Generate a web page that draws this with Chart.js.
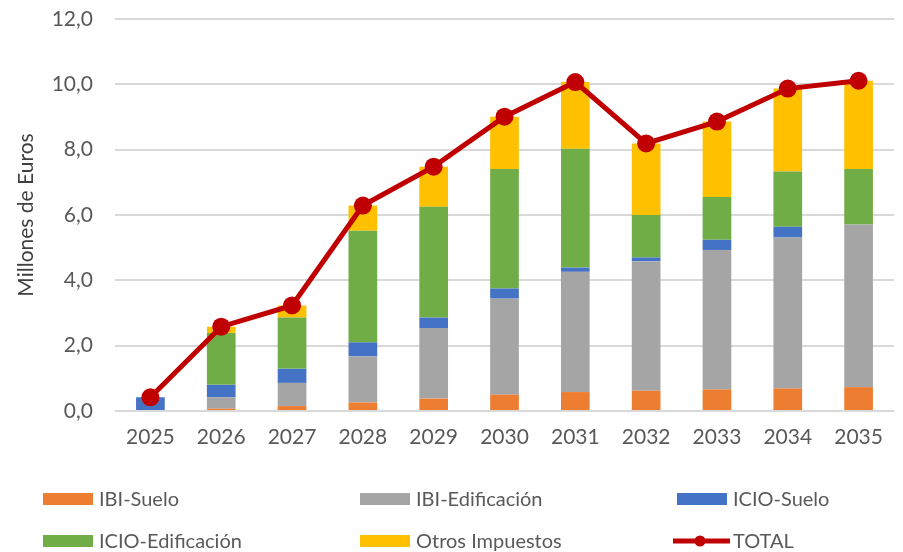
<!DOCTYPE html>
<html>
<head>
<meta charset="utf-8">
<script src="https://cdn.jsdelivr.net/npm/chart.js@4.4.0/dist/chart.umd.min.js"></script>
<style>
  html, body { margin: 0; padding: 0; background: #fff; }
  #wrap { width: 903px; height: 552px; position: relative; }
</style>
</head>
<body>
<div id="wrap"><canvas id="chart" width="903" height="552"></canvas></div>
<script>
// años
var years = ['2025', '2026', '2027', '2028', '2029', '2030', '2031', '2032', '2033', '2034', '2035'];

// millones de euros
var ibiSuelo      = [0.00, 0.07, 0.15, 0.26, 0.38, 0.50, 0.58, 0.62, 0.66, 0.69, 0.73];
var ibiEdif       = [0.00, 0.35, 0.71, 1.41, 2.16, 2.94, 3.68, 3.96, 4.27, 4.62, 4.98];
var icioSuelo     = [0.42, 0.38, 0.43, 0.43, 0.32, 0.31, 0.13, 0.12, 0.31, 0.33, 0.00];
var icioEdif      = [0.00, 1.59, 1.57, 3.42, 3.39, 3.66, 3.64, 1.30, 1.31, 1.69, 1.70];
var otros         = [0.00, 0.19, 0.37, 0.77, 1.23, 1.60, 2.04, 2.19, 2.31, 2.54, 2.70];
var total         = [0.42, 2.58, 3.23, 6.29, 7.48, 9.01, 10.07, 8.19, 8.86, 9.87, 10.11];

var yTicks = [0, 2, 4, 6, 8, 10, 12];

var FONT = 'Lato, "Open Sans", sans-serif';
var TXT = '#595959';

function bar(label, data, color) {
  return {
    type: 'bar', label: label, data: data, backgroundColor: color,
    stack: 'a', order: 1, barPercentage: 0.405, categoryPercentage: 1.0
  };
}

// leyenda en rejilla 3x2, como en el original
var gridLegend = {
  id: 'gridLegend',
  afterDraw: function (chart) {
    var ctx = chart.ctx;
    var cols = [43, 360, 677];
    var rows = [499, 541];
    ctx.save();
    ctx.font = '20px ' + FONT;
    ctx.textBaseline = 'middle';
    chart.data.datasets.forEach(function (ds, i) {
      var x = cols[i % 3], y = rows[Math.floor(i / 3)];
      if (ds.type === 'line') {
        ctx.strokeStyle = ds.borderColor;
        ctx.lineWidth = 5;
        ctx.beginPath();
        ctx.moveTo(x - 4, y);
        ctx.lineTo(x + 53, y);
        ctx.stroke();
        ctx.fillStyle = ds.borderColor;
        ctx.beginPath();
        ctx.arc(x + 23, y, 5.5, 0, Math.PI * 2);
        ctx.fill();
      } else {
        ctx.fillStyle = ds.backgroundColor;
        ctx.fillRect(x, y - 6, 50, 12);
      }
      ctx.fillStyle = TXT;
      ctx.fillText(ds.label, x + 56, y + 1);
    });
    ctx.restore();
  }
};

new Chart(document.getElementById('chart'), {
  type: 'bar',
  data: {
    labels: years,
    datasets: [
      bar('IBI-Suelo', ibiSuelo, '#ED7D31'),
      bar('IBI-Edificación', ibiEdif, '#A5A5A5'),
      bar('ICIO-Suelo', icioSuelo, '#4472C4'),
      bar('ICIO-Edificación', icioEdif, '#70AD47'),
      bar('Otros Impuestos', otros, '#FFC000'),
      {
        type: 'line', label: 'TOTAL', data: total, stack: 'total', order: 0,
        borderColor: '#C00000', backgroundColor: '#C00000', borderWidth: 5,
        pointRadius: 9, pointHoverRadius: 9, pointBorderWidth: 0,
        pointBackgroundColor: '#C00000', pointBorderColor: '#C00000', tension: 0
      }
    ]
  },
  options: {
    responsive: false,
    animation: false,
    layout: { padding: { top: 19, right: 0, bottom: 0, left: 0 } },
    plugins: { legend: { display: false }, tooltip: { enabled: false } },
    scales: {
      x: {
        stacked: true,
        grid: { display: false },
        border: { display: false },
        ticks: { color: TXT, font: { family: FONT, size: 21 }, padding: 6 },
        afterFit: function (s) { s.height = 141; s.paddingLeft = 0; s.paddingRight = 0; }
      },
      y: {
        stacked: true,
        min: 0, max: 12,
        afterBuildTicks: function (axis) { axis.ticks = yTicks.map(function (v) { return { value: v }; }); },
        grid: { color: '#D9D9D9', lineWidth: 2, drawTicks: false },
        border: { display: false },
        ticks: {
          color: TXT, font: { family: FONT, size: 21 }, padding: 22,
          callback: function (v) { return v.toFixed(1).replace('.', ','); }
        },
        title: {
          display: true, text: 'Millones de Euros', color: '#404040',
          font: { family: FONT, size: 21 }, padding: { top: 14, bottom: 0 }
        },
        afterFit: function (s) { s.width = 115; s.paddingTop = 0; s.paddingBottom = 0; }
      }
    }
  },
  plugins: [gridLegend]
});
</script>
</body>
</html>
